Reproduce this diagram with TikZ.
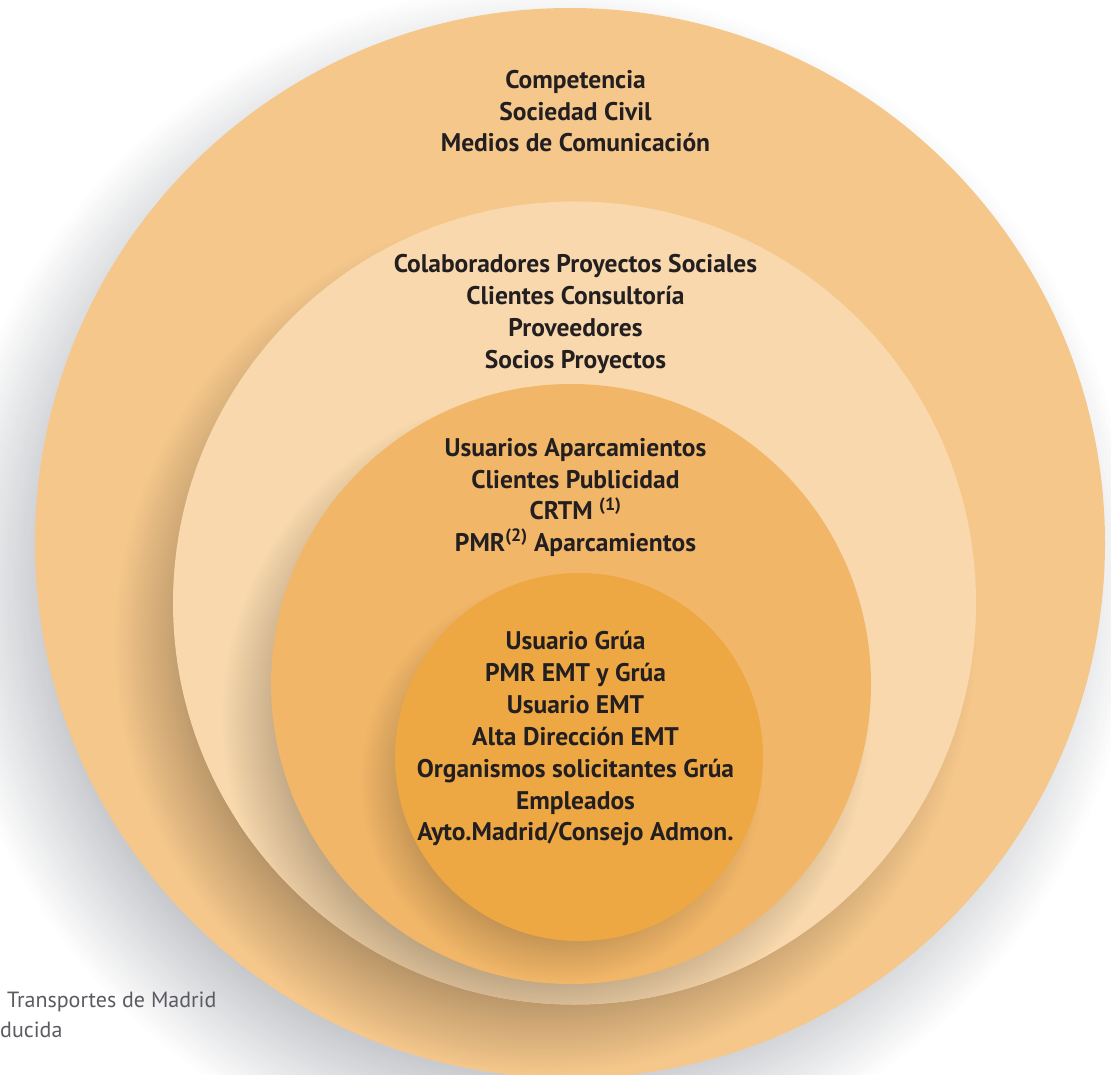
\documentclass[tikz,border=0pt]{standalone}
\usepackage{fontspec}
\setmainfont{PT Sans}
\definecolor{anello1}{RGB}{245,199,139}
\definecolor{anello2}{RGB}{248,216,172}
\definecolor{anello3}{RGB}{241,182,104}
\definecolor{anello4}{RGB}{238,168,67}
\definecolor{nero}{RGB}{35,31,32}
\definecolor{grigio}{RGB}{90,90,96}
\definecolor{scuroombra}{RGB}{30,36,52}
\colorlet{ombra1}{anello1!70!black}
\colorlet{ombra2}{anello2!72!black}
\colorlet{ombra3}{anello3!78!black}

% sfumature radiali delle ombre interne (25bp = bordo del disco)
\pgfdeclareradialshading{ombrasecondo}{\pgfpoint{0bp}{0bp}}{%
  color(0bp)=(ombra1); color(19.55bp)=(ombra1);
  color(25bp)=(anello1); color(50bp)=(anello1)}
\pgfdeclareradialshading{ombraterzo}{\pgfpoint{0bp}{0bp}}{%
  color(0bp)=(ombra2); color(19.03bp)=(ombra2);
  color(25bp)=(anello2); color(50bp)=(anello2)}
\pgfdeclareradialshading{ombranucleo}{\pgfpoint{0bp}{0bp}}{%
  color(0bp)=(ombra3); color(18bp)=(ombra3);
  color(25bp)=(anello3); color(50bp)=(anello3)}

\begin{document}
\begin{tikzpicture}[
  x=1pt, y=-1pt,
  riga/.style={font=\bfseries\fontsize{25.5}{30}\selectfont, text=nero, anchor=base, inner sep=0pt},
  nota/.style={font=\fontsize{22}{26}\selectfont, text=grigio, anchor=base west, inner sep=0pt},
  velo/.style={fill=scuroombra, fill opacity=0.0085}
]
\useasboundingbox (0,0) rectangle (1111,1075);

%--------------------------------------------------------------
% Ombra grigia sul fondo (dischi trasparenti sovrapposti)
%--------------------------------------------------------------
\foreach \k in {0,...,39}{
  \pgfmathsetmacro\raggio{596-3.5*\k}
  \fill[velo] (540,583) circle[radius=\raggio pt];
}

%--------------------------------------------------------------
% Cerchi concentrici e ombre interne
%--------------------------------------------------------------
\fill[anello1] (570,543) circle[radius=535pt];

\begin{scope}
  \clip (570,543) circle[radius=535pt];
  \shade[shading=ombrasecondo] (544.5,643) circle[radius=431.5pt];
\end{scope}
\fill[anello2] (574.5,603) circle[radius=401.5pt];

\begin{scope}
  \clip (574.5,603) circle[radius=401.5pt];
  \shade[shading=ombraterzo] (546,717) circle[radius=325pt];
\end{scope}
\fill[anello3] (571,684) circle[radius=300pt];

\begin{scope}
  \clip (571,684) circle[radius=300pt];
  \shade[shading=ombranucleo] (561,781) circle[radius=202pt];
\end{scope}
\fill[anello4] (579,757) circle[radius=184pt];

%--------------------------------------------------------------
% Anello esterno
%--------------------------------------------------------------
\foreach \n/\y/\testo in {%
  1/89/{Competencia},
  2/121/{Sociedad Civil},
  3/152/{Medios de Comunicación}}{
  \node[riga] (esterno\n) at (575.5,\y) {\testo};
}

%--------------------------------------------------------------
% Secondo anello
%--------------------------------------------------------------
\foreach \n/\y/\testo in {%
  1/273/{Colaboradores Proyectos Sociales},
  2/305/{Clientes Consultoría},
  3/336/{Proveedores},
  4/368/{Socios Proyectos}}{
  \node[riga] (secondo\n) at (575.5,\y) {\testo};
}

%--------------------------------------------------------------
% Terzo anello
%--------------------------------------------------------------
\foreach \n/\y/\testo in {%
  1/456/{Usuarios Aparcamientos},
  2/488/{Clientes Publicidad},
  3/519.5/{CRTM \textsuperscript{(1)}},
  4/551/{PMR\textsuperscript{(2)} Aparcamientos}}{
  \node[riga] (terzo\n) at (575.5,\y) {\testo};
}

%--------------------------------------------------------------
% Nucleo
%--------------------------------------------------------------
\foreach \n/\y/\testo in {%
  1/649/{Usuario Grúa},
  2/681/{PMR EMT y Grúa},
  3/713/{Usuario EMT},
  4/745/{Alta Dirección EMT},
  5/777/{Organismos solicitantes Grúa},
  6/809/{Empleados},
  7/840/{Ayto.Madrid/Consejo Admon.}}{
  \node[riga] (nucleo\n) at (575.5,\y) {\testo};
}

%--------------------------------------------------------------
% Nota in basso
%--------------------------------------------------------------
\node[nota] (fonte) at (7,1007) {Transportes de Madrid};
\node[nota] (riprod) at (0,1037) {ducida};

\end{tikzpicture}
\end{document}
